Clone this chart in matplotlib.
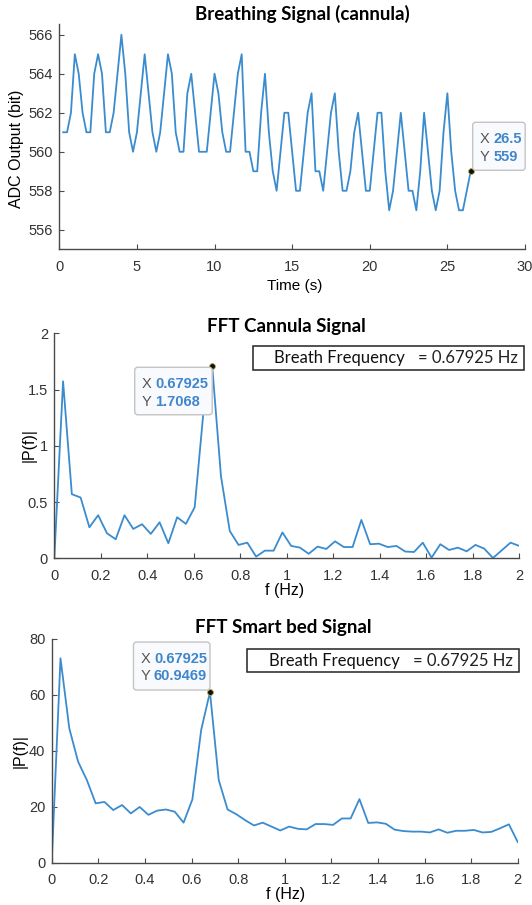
import numpy as np
import matplotlib
matplotlib.use('Agg')
import matplotlib.pyplot as plt
from matplotlib.patches import FancyBboxPatch, Rectangle
from matplotlib.transforms import IdentityTransform

# breathing signal (cannula), sampled at 4 Hz
fs = 4
adc = [561, 561, 562, 565, 564, 562, 561, 561, 564, 565,
       564, 561, 561, 562, 564, 566, 564, 561, 560, 561,
       563, 565, 563, 561, 560, 561, 563, 565, 564, 561,
       560, 560, 563, 564, 562, 560, 560, 560, 562, 564,
       563, 561, 560, 560, 562, 564, 565, 560, 560, 559,
       559, 562, 564, 561, 559, 558, 560, 562, 562, 560,
       558, 558, 560, 562, 563, 559, 559, 558, 560, 562,
       563, 560, 558, 558, 559, 561, 562, 560, 558, 558,
       560, 562, 562, 559, 557, 558, 560, 562, 560, 558,
       558, 557, 559, 562, 560, 558, 557, 558, 561, 563,
       560, 558, 557, 557, 558, 559]
t = np.arange(1, len(adc) + 1) / fs

# single sided spectra, 0..2 Hz
freq = np.arange(54) * fs / len(adc)
p_cannula = [0.0, 1.573, 0.57, 0.54, 0.276, 0.383, 0.223, 0.169, 0.383, 0.261,
             0.303, 0.217, 0.32, 0.134, 0.365, 0.306, 0.454, 1.30, 1.7068, 0.727,
             0.243, 0.119, 0.139, 0.015, 0.068, 0.068, 0.23, 0.11, 0.095, 0.04,
             0.104, 0.083, 0.151, 0.10, 0.10, 0.341, 0.125, 0.13, 0.10, 0.11,
             0.06, 0.056, 0.139, 0.006, 0.125, 0.074, 0.095, 0.062, 0.119, 0.086,
             0.003, 0.071, 0.139, 0.11]
p_bed = [0.0, 73.0, 48.0, 36.1, 29.5, 21.2, 21.7, 18.8, 20.6, 17.6,
         19.9, 17.1, 18.6, 19.0, 18.2, 14.3, 22.6, 47.4, 60.9469, 29.5,
         19.0, 17.3, 15.2, 13.3, 14.3, 12.9, 11.5, 12.9, 12.1, 11.9,
         13.8, 13.8, 13.5, 15.8, 15.8, 22.7, 14.2, 14.4, 13.9, 11.8,
         11.3, 11.1, 11.1, 10.8, 11.9, 10.7, 11.4, 11.4, 11.7, 10.8,
         11.0, 12.3, 13.7, 7.4]

peak_k = 18
f_ticks = [0, 0.2, 0.4, 0.6, 0.8, 1, 1.2, 1.4, 1.6, 1.8, 2]
f_labels = ['0', '0.2', '0.4', '0.6', '0.8', '1', '1.2', '1.4', '1.6', '1.8', '2']

LINE = '#3a8ccf'
AX = '#4a4a4a'
TIPBLUE = '#3f86cc'

plt.rcParams['font.family'] = ['Liberation Sans', 'DejaVu Sans']
plt.rcParams['font.size'] = 10.5
plt.rcParams['axes.edgecolor'] = AX
plt.rcParams['axes.linewidth'] = 1.0
plt.rcParams['xtick.color'] = AX
plt.rcParams['ytick.color'] = AX
plt.rcParams['xtick.labelcolor'] = '#333333'
plt.rcParams['ytick.labelcolor'] = '#333333'
plt.rcParams['xtick.direction'] = 'in'
plt.rcParams['ytick.direction'] = 'in'

W, H = 532, 905
fig = plt.figure(figsize=(W / 100, H / 100), dpi=100)


def px_axes(left, top, right, bottom):
    return fig.add_axes([left / W, 1 - bottom / H, (right - left) / W, (bottom - top) / H])


def style(ax):
    for s in ['top', 'right']:
        ax.spines[s].set_visible(False)
    ax.tick_params(axis='x', length=3.5, pad=7.5)
    ax.tick_params(axis='y', length=3.5, pad=4.5)


def datatip(ax, x, y, xs, ys, w, h, corner):
    px, py = ax.transData.transform((x, y))
    if corner == 'bl':
        x0, y0 = px + 2, py + 1
    elif corner == 'tr':
        x0, y0 = px - w, py - h - 1
    else:
        x0, y0 = px - w, py + 2
    box = FancyBboxPatch((x0, y0), w, h, boxstyle='round,pad=0,rounding_size=3',
                         transform=IdentityTransform(), facecolor='#f9fafd',
                         edgecolor='#c4c4c4', lw=1.0, zorder=5)
    fig.add_artist(box)
    for i, (lab, val) in enumerate([('X', xs), ('Y', ys)]):
        yy = y0 + h - 16.5 - i * 17.8
        fig.text(x0 + 7, yy, lab, transform=IdentityTransform(), color='#555555',
                 fontsize=10.5, va='center', ha='left', zorder=6)
        fig.text(x0 + 20.5, yy, val, transform=IdentityTransform(), color=TIPBLUE,
                 fontsize=10.5, fontweight='bold', va='center', ha='left', zorder=6)
    ax.plot([x], [y], 'o', ms=4.2, mfc='#111111', mec='#b5a640', mew=0.6, zorder=7,
            clip_on=False)


def freq_box(ax, x0, x1, y0, y1, txt_l, txt_r):
    ax.add_patch(Rectangle((x0, y0), x1 - x0, y1 - y0, transform=ax.transAxes,
                           fill=False, edgecolor='#222222', lw=1.1, clip_on=False, zorder=4))
    ym = (y0 + y1) / 2
    ax.text(x0 + 0.046, ym, txt_l, transform=ax.transAxes, family=['Lato', 'DejaVu Sans'],
            fontsize=12, color='#111111', va='center', ha='left')
    ax.text(x1 - 0.0145, ym, txt_r, transform=ax.transAxes, family=['Lato', 'DejaVu Sans'],
            fontsize=12, color='#222222', va='center', ha='right')


# --- breathing signal ---
ax1 = px_axes(59.3, 24, 525, 249.3)
style(ax1)
ax1.plot(t, adc, color=LINE, lw=1.3)
ax1.set_xlim(0, 30)
ax1.set_ylim(555, 566.55)
ax1.set_xticks([0, 5, 10, 15, 20, 25, 30])
ax1.set_yticks([556, 558, 560, 562, 564, 566])
ax1.set_xlabel('Time (s)', fontsize=11)
ax1.xaxis.set_label_coords(0.506, -0.162)
ax1.xaxis.label.set_va('center')
ax1.set_ylabel('ADC Output (bit)', fontsize=11.5)
ax1.yaxis.set_label_coords(-0.0923, 0.448)
ax1.yaxis.label.set_va('center')
ax1.text(0.522, 1.0177, 'Breathing Signal (cannula)', transform=ax1.transAxes,
         family=['Lato', 'DejaVu Sans'], fontweight='bold', fontsize=13.5,
         ha='center', va='baseline')

# --- FFT cannula ---
ax2 = px_axes(54.3, 333.3, 519.3, 558.3)
style(ax2)
ax2.plot(freq, p_cannula, color=LINE, lw=1.3)
ax2.set_xlim(0, 2)
ax2.set_ylim(0, 2)
ax2.set_xticks(f_ticks)
ax2.set_xticklabels(f_labels)
ax2.set_yticks([0, 0.5, 1, 1.5, 2])
ax2.set_yticklabels(['0', '0.5', '1', '1.5', '2'])
ax2.set_xlabel('f (Hz)', fontsize=11.5)
ax2.xaxis.set_label_coords(0.495, -0.141)
ax2.xaxis.label.set_va('center')
ax2.set_ylabel('|P(f)|', fontsize=11.5)
ax2.yaxis.set_label_coords(-0.0546, 0.5036)
ax2.yaxis.label.set_va('center')
ax2.text(0.499, 1.0071, 'FFT Cannula Signal', transform=ax2.transAxes,
         family=['Lato', 'DejaVu Sans'], fontweight='bold', fontsize=13.5,
         ha='center', va='baseline')
freq_box(ax2, 0.4269, 1.0108, 0.8369, 0.9436, 'Breath Frequency',
         '= %.5f Hz' % freq[peak_k])

# --- FFT smart bed ---
ax3 = px_axes(51.7, 638.7, 517.7, 862.7)
style(ax3)
ax3.plot(freq, p_bed, color=LINE, lw=1.3)
ax3.set_xlim(0, 2)
ax3.set_ylim(0, 80)
ax3.set_xticks(f_ticks)
ax3.set_xticklabels(f_labels)
ax3.set_yticks([0, 20, 40, 60, 80])
ax3.set_xlabel('f (Hz)', fontsize=11.5)
ax3.xaxis.set_label_coords(0.502, -0.144)
ax3.xaxis.label.set_va('center')
ax3.set_ylabel('|P(f)|', fontsize=11.5)
ax3.yaxis.set_label_coords(-0.068, 0.4987)
ax3.yaxis.label.set_va('center')
ax3.text(0.4974, 1.0268, 'FFT Smart bed Signal', transform=ax3.transAxes,
         family=['Lato', 'DejaVu Sans'], fontweight='bold', fontsize=13.5,
         ha='center', va='baseline')
freq_box(ax3, 0.4197, 1.0036, 0.85, 0.9527, 'Breath Frequency',
         '= %.5f Hz' % freq[peak_k])

# data tips
datatip(ax1, t[-1], adc[-1], '%g' % t[-1], '%d' % adc[-1], 52.5, 48, 'bl')
datatip(ax2, freq[peak_k], p_cannula[peak_k], '%.5f' % freq[peak_k],
        '%.4f' % p_cannula[peak_k], 77.5, 47.5, 'tr')
datatip(ax3, freq[peak_k], p_bed[peak_k], '%.5f' % freq[peak_k],
        '%.4f' % p_bed[peak_k], 76.5, 48, 'br')

fig.savefig('out.png', dpi=100)
